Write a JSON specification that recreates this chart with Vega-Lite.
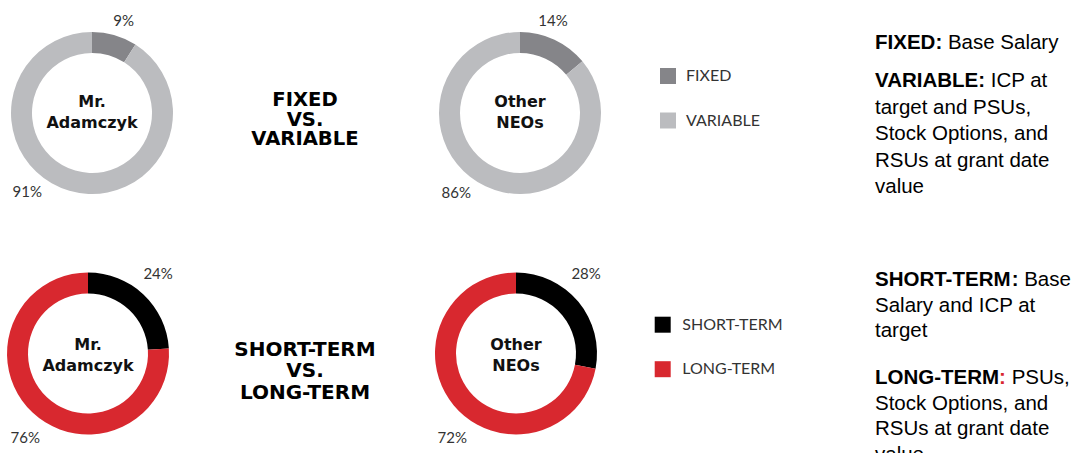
{
  "$schema": "https://vega.github.io/schema/vega-lite/v6.json",
  "padding": 0,
  "background": "white",
  "config": {"view": {"stroke": null}},
  "datasets": {
    "mix": [
      {"group": "fv", "who": "Mr. Adamczyk", "part": "FIXED", "pct": 0.09, "rank": 1},
      {"group": "fv", "who": "Mr. Adamczyk", "part": "VARIABLE", "pct": 0.91, "rank": 2},
      {"group": "fv", "who": "Other NEOs", "part": "FIXED", "pct": 0.14, "rank": 1},
      {"group": "fv", "who": "Other NEOs", "part": "VARIABLE", "pct": 0.86, "rank": 2},
      {"group": "sl", "who": "Mr. Adamczyk", "part": "SHORT-TERM", "pct": 0.24, "rank": 1},
      {"group": "sl", "who": "Mr. Adamczyk", "part": "LONG-TERM", "pct": 0.76, "rank": 2},
      {"group": "sl", "who": "Other NEOs", "part": "SHORT-TERM", "pct": 0.28, "rank": 1},
      {"group": "sl", "who": "Other NEOs", "part": "LONG-TERM", "pct": 0.72, "rank": 2}
    ],
    "names": [
      {"who": "Mr. Adamczyk", "lines": ["Mr.", "Adamczyk"]},
      {"who": "Other NEOs", "lines": ["Other", "NEOs"]}
    ],
    "titles": [
      {"group": "fv", "lines": ["FIXED", "VS.", "VARIABLE"]},
      {"group": "sl", "lines": ["SHORT-TERM", "VS.", "LONG-TERM"]}
    ],
    "notes": [
      {"group": "fv", "para": 1, "head": "FIXED", "first": "Base Salary", "more": [""]},
      {"group": "fv", "para": 2, "head": "VARIABLE", "first": "ICP at", "more": ["", "target and PSUs,", "Stock Options, and", "RSUs at grant date", "value"]},
      {"group": "sl", "para": 1, "head": "SHORT-TERM", "first": "Base", "more": ["", "Salary and ICP at", "target"]},
      {"group": "sl", "para": 2, "head": "LONG-TERM", "first": "PSUs,", "more": ["", "Stock Options, and", "RSUs at grant date", "value"]}
    ]
  },
  "columns": 5,
  "bounds": "flush",
  "spacing": {"row": 28, "column": 0},
  "resolve": {"scale": {"color": "independent", "theta": "independent", "y": "independent"}, "legend": {"color": "independent"}},
  "concat": [
    {
      "width": 184,
      "height": 226,
      "layer": [
        {
          "data": {"name": "mix"},
          "transform": [{"filter": "datum.group === 'fv' && datum.who === 'Mr. Adamczyk'"}],
          "mark": {"type": "arc", "innerRadius": 60, "outerRadius": 81},
          "encoding": {
            "theta": {"field": "pct", "type": "quantitative", "stack": true, "scale": {"domain": [0, 1]}},
            "order": {"field": "rank", "type": "quantitative"},
            "color": {"field": "part", "type": "nominal", "scale": {"domain": ["FIXED", "VARIABLE"], "range": ["#858589", "#bbbcbf"]}, "legend": null}
          }
        },
        {
          "data": {"name": "mix"},
          "transform": [{"filter": "datum.group === 'fv' && datum.who === 'Mr. Adamczyk'"}],
          "mark": {"type": "text", "radius": 97, "thetaOffset": 0.049, "font": "Lato", "fontSize": 15, "color": "#333"},
          "encoding": {
            "theta": {"field": "pct", "type": "quantitative", "stack": true, "scale": {"domain": [0, 1]}},
            "order": {"field": "rank", "type": "quantitative"},
            "detail": {"field": "part"},
            "text": {"condition": {"test": "datum.rank === 1", "field": "pct", "type": "quantitative", "format": ".0%"}, "value": ""}
          }
        },
        {
          "data": {"name": "mix"},
          "transform": [{"filter": "datum.group === 'fv' && datum.who === 'Mr. Adamczyk'"}],
          "mark": {"type": "text", "radius": 102, "thetaOffset": 0.405, "font": "Lato", "fontSize": 15, "color": "#333"},
          "encoding": {
            "theta": {"field": "pct", "type": "quantitative", "stack": true, "scale": {"domain": [0, 1]}},
            "order": {"field": "rank", "type": "quantitative"},
            "detail": {"field": "part"},
            "text": {"condition": {"test": "datum.rank === 2", "field": "pct", "type": "quantitative", "format": ".0%"}, "value": ""}
          }
        },
        {
          "data": {"name": "names"},
          "transform": [{"filter": "datum.who === 'Mr. Adamczyk'"}],
          "mark": {"type": "text", "font": "DejaVu Sans", "fontWeight": "bold", "fontSize": 16, "lineHeight": 21, "baseline": "middle", "dy": -11.5, "color": "#111"},
          "encoding": {"text": {"field": "lines"}}
        }
      ]
    },
    {
      "width": 242,
      "height": 226,
      "data": {"name": "titles"},
      "transform": [{"filter": "datum.group === 'fv'"}],
      "mark": {"type": "text", "font": "DejaVu Sans", "fontWeight": "bold", "fontSize": 19.6, "lineHeight": 19.5, "baseline": "middle", "dy": -13, "color": "#000"},
      "encoding": {"text": {"field": "lines"}}
    },
    {
      "width": 188,
      "height": 226,
      "layer": [
        {
          "data": {"name": "mix"},
          "transform": [{"filter": "datum.group === 'fv' && datum.who === 'Other NEOs'"}],
          "mark": {"type": "arc", "innerRadius": 60, "outerRadius": 81},
          "encoding": {
            "theta": {"field": "pct", "type": "quantitative", "stack": true, "scale": {"domain": [0, 1]}},
            "order": {"field": "rank", "type": "quantitative"},
            "color": {
              "field": "part", "type": "nominal",
              "scale": {"domain": ["FIXED", "VARIABLE"], "range": ["#858589", "#bbbcbf"]},
              "legend": {"title": null, "orient": "right", "offset": -22, "padding": 68, "symbolType": "square", "symbolSize": 256, "symbolStrokeWidth": 0, "symbolOpacity": 1, "rowPadding": 28.5, "labelFont": "Lato", "labelFontSize": 16, "labelColor": "#333", "labelOffset": 10, "labelLimit": 300}
            }
          }
        },
        {
          "data": {"name": "mix"},
          "transform": [{"filter": "datum.group === 'fv' && datum.who === 'Other NEOs'"}],
          "mark": {"type": "text", "radius": 98, "thetaOffset": -0.096, "font": "Lato", "fontSize": 15, "color": "#333"},
          "encoding": {
            "theta": {"field": "pct", "type": "quantitative", "stack": true, "scale": {"domain": [0, 1]}},
            "order": {"field": "rank", "type": "quantitative"},
            "detail": {"field": "part"},
            "text": {"condition": {"test": "datum.rank === 1", "field": "pct", "type": "quantitative", "format": ".0%"}, "value": ""}
          }
        },
        {
          "data": {"name": "mix"},
          "transform": [{"filter": "datum.group === 'fv' && datum.who === 'Other NEOs'"}],
          "mark": {"type": "text", "radius": 102, "thetaOffset": 0.236, "font": "Lato", "fontSize": 15, "color": "#333"},
          "encoding": {
            "theta": {"field": "pct", "type": "quantitative", "stack": true, "scale": {"domain": [0, 1]}},
            "order": {"field": "rank", "type": "quantitative"},
            "detail": {"field": "part"},
            "text": {"condition": {"test": "datum.rank === 2", "field": "pct", "type": "quantitative", "format": ".0%"}, "value": ""}
          }
        },
        {
          "data": {"name": "names"},
          "transform": [{"filter": "datum.who === 'Other NEOs'"}],
          "mark": {"type": "text", "font": "DejaVu Sans", "fontWeight": "bold", "fontSize": 16, "lineHeight": 21, "baseline": "middle", "dy": -11.5, "color": "#111"},
          "encoding": {"text": {"field": "lines"}}
        }
      ]
    },
    {
      "width": 55,
      "height": 226,
      "data": {"values": []},
      "mark": {"type": "point", "opacity": 0}
    },
    {
      "width": 412,
      "height": 226,
      "data": {"name": "notes"},
      "transform": [{"filter": "datum.group === 'fv'"}],
      "encoding": {
        "y": {"field": "para", "type": "ordinal", "scale": {"type": "point", "domain": [1, 2], "range": [49, 87], "padding": 0}, "axis": null}
      },
      "layer": [
        {
          "mark": {"type": "text", "align": "left", "baseline": "alphabetic", "font": "Liberation Sans", "fontWeight": "bold", "fontSize": 20.5, "color": "#000"},
          "encoding": {"text": {"field": "head"}}
        },
        {
          "transform": [{"filter": "datum.para === 1"}],
          "mark": {"type": "text", "align": "left", "baseline": "alphabetic", "font": "Liberation Sans", "fontWeight": "bold", "fontSize": 20.5, "color": "#000", "dx": 60.4},
          "encoding": {"text": {"value": ":"}}
        },
        {
          "transform": [{"filter": "datum.para === 2"}],
          "mark": {"type": "text", "align": "left", "baseline": "alphabetic", "font": "Liberation Sans", "fontWeight": "bold", "fontSize": 20.5, "color": "#000", "dx": 103.2},
          "encoding": {"text": {"value": ":"}}
        },
        {
          "transform": [{"filter": "datum.para === 1"}],
          "mark": {"type": "text", "align": "left", "baseline": "alphabetic", "font": "Liberation Sans", "fontSize": 20.5, "color": "#000", "dx": 72.9},
          "encoding": {"text": {"field": "first"}}
        },
        {
          "transform": [{"filter": "datum.para === 2"}],
          "mark": {"type": "text", "align": "left", "baseline": "alphabetic", "font": "Liberation Sans", "fontSize": 20.5, "color": "#000", "dx": 115.7},
          "encoding": {"text": {"field": "first"}}
        },
        {
          "mark": {"type": "text", "align": "left", "baseline": "alphabetic", "font": "Liberation Sans", "fontSize": 20.5, "lineHeight": 26.5, "color": "#000"},
          "encoding": {"text": {"field": "more"}}
        }
      ]
    },
    {
      "width": 184,
      "height": 199,
      "layer": [
        {
          "data": {"name": "mix"},
          "transform": [{"filter": "datum.group === 'sl' && datum.who === 'Mr. Adamczyk'"}],
          "mark": {"type": "arc", "innerRadius": 60, "outerRadius": 81, "xOffset": -4},
          "encoding": {
            "theta": {"field": "pct", "type": "quantitative", "stack": true, "scale": {"domain": [0, 1]}},
            "order": {"field": "rank", "type": "quantitative"},
            "color": {"field": "part", "type": "nominal", "scale": {"domain": ["SHORT-TERM", "LONG-TERM"], "range": ["#000000", "#d8282f"]}, "legend": null}
          }
        },
        {
          "data": {"name": "mix"},
          "transform": [{"filter": "datum.group === 'sl' && datum.who === 'Mr. Adamczyk'"}],
          "mark": {"type": "text", "radius": 106, "thetaOffset": -0.031, "font": "Lato", "fontSize": 15, "color": "#333", "xOffset": -4},
          "encoding": {
            "theta": {"field": "pct", "type": "quantitative", "stack": true, "scale": {"domain": [0, 1]}},
            "order": {"field": "rank", "type": "quantitative"},
            "detail": {"field": "part"},
            "text": {"condition": {"test": "datum.rank === 1", "field": "pct", "type": "quantitative", "format": ".0%"}, "value": ""}
          }
        },
        {
          "data": {"name": "mix"},
          "transform": [{"filter": "datum.group === 'sl' && datum.who === 'Mr. Adamczyk'"}],
          "mark": {"type": "text", "radius": 105, "thetaOffset": -0.113, "font": "Lato", "fontSize": 15, "color": "#333", "xOffset": -4},
          "encoding": {
            "theta": {"field": "pct", "type": "quantitative", "stack": true, "scale": {"domain": [0, 1]}},
            "order": {"field": "rank", "type": "quantitative"},
            "detail": {"field": "part"},
            "text": {"condition": {"test": "datum.rank === 2", "field": "pct", "type": "quantitative", "format": ".0%"}, "value": ""}
          }
        },
        {
          "data": {"name": "names"},
          "transform": [{"filter": "datum.who === 'Mr. Adamczyk'"}],
          "mark": {"type": "text", "font": "DejaVu Sans", "fontWeight": "bold", "fontSize": 16, "lineHeight": 21, "baseline": "middle", "dy": -8.5, "xOffset": -4, "color": "#111"},
          "encoding": {"text": {"field": "lines"}}
        }
      ]
    },
    {
      "width": 242,
      "height": 199,
      "data": {"name": "titles"},
      "transform": [{"filter": "datum.group === 'sl'"}],
      "mark": {"type": "text", "font": "DejaVu Sans", "fontWeight": "bold", "fontSize": 20, "lineHeight": 21.5, "baseline": "middle", "dy": -4, "color": "#000"},
      "encoding": {"text": {"field": "lines"}}
    },
    {
      "width": 188,
      "height": 199,
      "layer": [
        {
          "data": {"name": "mix"},
          "transform": [{"filter": "datum.group === 'sl' && datum.who === 'Other NEOs'"}],
          "mark": {"type": "arc", "innerRadius": 60, "outerRadius": 81, "xOffset": -4},
          "encoding": {
            "theta": {"field": "pct", "type": "quantitative", "stack": true, "scale": {"domain": [0, 1]}},
            "order": {"field": "rank", "type": "quantitative"},
            "color": {
              "field": "part", "type": "nominal",
              "scale": {"domain": ["SHORT-TERM", "LONG-TERM"], "range": ["#000000", "#d8282f"]},
              "legend": {"title": null, "orient": "right", "offset": -21.7, "padding": 62.7, "symbolType": "square", "symbolSize": 256, "symbolStrokeWidth": 0, "symbolOpacity": 1, "rowPadding": 28.5, "labelFont": "Lato", "labelFontSize": 16, "labelColor": "#333", "labelOffset": 11.6, "labelLimit": 300}
            }
          }
        },
        {
          "data": {"name": "mix"},
          "transform": [{"filter": "datum.group === 'sl' && datum.who === 'Other NEOs'"}],
          "mark": {"type": "text", "radius": 106, "thetaOffset": -0.157, "font": "Lato", "fontSize": 15, "color": "#333", "xOffset": -4},
          "encoding": {
            "theta": {"field": "pct", "type": "quantitative", "stack": true, "scale": {"domain": [0, 1]}},
            "order": {"field": "rank", "type": "quantitative"},
            "detail": {"field": "part"},
            "text": {"condition": {"test": "datum.rank === 1", "field": "pct", "type": "quantitative", "format": ".0%"}, "value": ""}
          }
        },
        {
          "data": {"name": "mix"},
          "transform": [{"filter": "datum.group === 'sl' && datum.who === 'Other NEOs'"}],
          "mark": {"type": "text", "radius": 106, "thetaOffset": -0.234, "font": "Lato", "fontSize": 15, "color": "#333", "xOffset": -4},
          "encoding": {
            "theta": {"field": "pct", "type": "quantitative", "stack": true, "scale": {"domain": [0, 1]}},
            "order": {"field": "rank", "type": "quantitative"},
            "detail": {"field": "part"},
            "text": {"condition": {"test": "datum.rank === 2", "field": "pct", "type": "quantitative", "format": ".0%"}, "value": ""}
          }
        },
        {
          "data": {"name": "names"},
          "transform": [{"filter": "datum.who === 'Other NEOs'"}],
          "mark": {"type": "text", "font": "DejaVu Sans", "fontWeight": "bold", "fontSize": 16, "lineHeight": 21, "baseline": "middle", "dy": -8.5, "xOffset": -4, "color": "#111"},
          "encoding": {"text": {"field": "lines"}}
        }
      ]
    },
    {
      "width": 55,
      "height": 199,
      "data": {"values": []},
      "mark": {"type": "point", "opacity": 0}
    },
    {
      "width": 412,
      "height": 199,
      "data": {"name": "notes"},
      "transform": [{"filter": "datum.group === 'sl'"}],
      "encoding": {
        "y": {"field": "para", "type": "ordinal", "scale": {"type": "point", "domain": [1, 2], "range": [32, 130], "padding": 0}, "axis": null}
      },
      "layer": [
        {
          "mark": {"type": "text", "align": "left", "baseline": "alphabetic", "font": "Liberation Sans", "fontWeight": "bold", "fontSize": 20.5, "color": "#000", "clip": true},
          "encoding": {"text": {"field": "head"}}
        },
        {
          "transform": [{"filter": "datum.para === 1"}],
          "mark": {"type": "text", "align": "left", "baseline": "alphabetic", "font": "Liberation Sans", "fontWeight": "bold", "fontSize": 20.5, "color": "#000", "dx": 136.7, "clip": true},
          "encoding": {"text": {"value": ":"}}
        },
        {
          "transform": [{"filter": "datum.para === 2"}],
          "mark": {"type": "text", "align": "left", "baseline": "alphabetic", "font": "Liberation Sans", "fontWeight": "bold", "fontSize": 20.5, "color": "#d8282f", "dx": 124.1, "clip": true},
          "encoding": {"text": {"value": ":"}}
        },
        {
          "transform": [{"filter": "datum.para === 1"}],
          "mark": {"type": "text", "align": "left", "baseline": "alphabetic", "font": "Liberation Sans", "fontSize": 20.5, "color": "#000", "dx": 149.2, "clip": true},
          "encoding": {"text": {"field": "first"}}
        },
        {
          "transform": [{"filter": "datum.para === 2"}],
          "mark": {"type": "text", "align": "left", "baseline": "alphabetic", "font": "Liberation Sans", "fontSize": 20.5, "color": "#000", "dx": 136.7, "clip": true},
          "encoding": {"text": {"field": "first"}}
        },
        {
          "mark": {"type": "text", "align": "left", "baseline": "alphabetic", "font": "Liberation Sans", "fontSize": 20.5, "lineHeight": 25.5, "color": "#000", "clip": true},
          "encoding": {"text": {"field": "more"}}
        }
      ]
    }
  ]
}
